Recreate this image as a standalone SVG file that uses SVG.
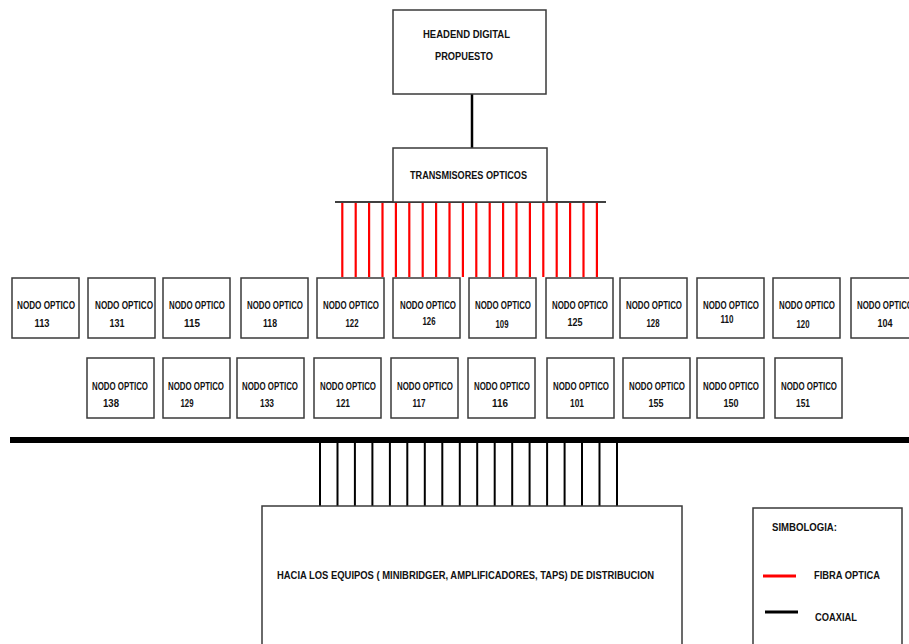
<svg xmlns="http://www.w3.org/2000/svg" width="909" height="644" viewBox="0 0 909 644">
  <style>
    .box { fill: #ffffff; stroke: #3a3a3a; stroke-width: 1.5; }
    .t { font-family: "Liberation Sans", Arial, sans-serif; font-weight: bold; fill: #111111; }
    .lbl { font-size: 11px; text-anchor: middle; }
    .num { font-size: 11px; text-anchor: middle; }
    .fiber { stroke: #ff0000; stroke-width: 2.2; }
    .coax { stroke: #000000; stroke-width: 2; }
  </style>
  <defs>
    <!-- optical node box: 67 x 60 -->
    <rect id="nodeBox" class="box" x="0" y="0" width="67" height="60"/>
  </defs>
  <rect width="909" height="644" fill="#ffffff"/>

  <!-- connectors -->
  <g id="connectors">
    <line x1="472" y1="94" x2="472" y2="148" stroke="#000" stroke-width="2.5"/>
    <line x1="335" y1="202" x2="606" y2="202" stroke="#000" stroke-width="1.5"/>
    <!-- fibre drops -->
    <g class="fiber">
      <line x1="342.3" y1="203" x2="342.3" y2="277"/>
      <line x1="355.7" y1="203" x2="355.7" y2="277"/>
      <line x1="369.1" y1="203" x2="369.1" y2="277"/>
      <line x1="382.5" y1="203" x2="382.5" y2="277"/>
      <line x1="395.9" y1="203" x2="395.9" y2="277"/>
      <line x1="409.3" y1="203" x2="409.3" y2="277"/>
      <line x1="422.7" y1="203" x2="422.7" y2="277"/>
      <line x1="436.1" y1="203" x2="436.1" y2="277"/>
      <line x1="449.5" y1="203" x2="449.5" y2="277"/>
      <line x1="462.9" y1="203" x2="462.9" y2="277"/>
      <line x1="476.3" y1="203" x2="476.3" y2="277"/>
      <line x1="489.7" y1="203" x2="489.7" y2="277"/>
      <line x1="503.1" y1="203" x2="503.1" y2="277"/>
      <line x1="516.5" y1="203" x2="516.5" y2="277"/>
      <line x1="529.9" y1="203" x2="529.9" y2="277"/>
      <line x1="543.3" y1="203" x2="543.3" y2="277"/>
      <line x1="556.7" y1="203" x2="556.7" y2="277"/>
      <line x1="570.1" y1="203" x2="570.1" y2="277"/>
      <line x1="583.5" y1="203" x2="583.5" y2="277"/>
      <line x1="596.9" y1="203" x2="596.9" y2="277"/>
    </g>
    <!-- coax trunk -->
    <line x1="10" y1="440" x2="909" y2="440" stroke="#000" stroke-width="6"/>
    <g class="coax">
      <line x1="320.0" y1="443" x2="320.0" y2="506"/>
      <line x1="337.5" y1="443" x2="337.5" y2="506"/>
      <line x1="354.9" y1="443" x2="354.9" y2="506"/>
      <line x1="372.4" y1="443" x2="372.4" y2="506"/>
      <line x1="389.9" y1="443" x2="389.9" y2="506"/>
      <line x1="407.3" y1="443" x2="407.3" y2="506"/>
      <line x1="424.8" y1="443" x2="424.8" y2="506"/>
      <line x1="442.3" y1="443" x2="442.3" y2="506"/>
      <line x1="459.8" y1="443" x2="459.8" y2="506"/>
      <line x1="477.2" y1="443" x2="477.2" y2="506"/>
      <line x1="494.7" y1="443" x2="494.7" y2="506"/>
      <line x1="512.2" y1="443" x2="512.2" y2="506"/>
      <line x1="529.6" y1="443" x2="529.6" y2="506"/>
      <line x1="547.1" y1="443" x2="547.1" y2="506"/>
      <line x1="564.6" y1="443" x2="564.6" y2="506"/>
      <line x1="582.0" y1="443" x2="582.0" y2="506"/>
      <line x1="599.5" y1="443" x2="599.5" y2="506"/>
      <line x1="617.0" y1="443" x2="617.0" y2="506"/>
    </g>
  </g>

  <!-- headend -->
  <g id="headend">
    <rect class="box" x="393" y="10" width="153" height="84"/>
    <text class="t" x="423" y="38" font-size="11" textLength="87" lengthAdjust="spacingAndGlyphs">HEADEND DIGITAL</text>
    <text class="t" x="435" y="60" font-size="11" textLength="58" lengthAdjust="spacingAndGlyphs">PROPUESTO</text>
  </g>

  <!-- optical transmitters -->
  <g id="transmisores">
    <rect class="box" x="393" y="148" width="154" height="54"/>
    <text class="t" x="410" y="179" font-size="11" textLength="117" lengthAdjust="spacingAndGlyphs">TRANSMISORES OPTICOS</text>
  </g>

  <!-- optical nodes, upper row -->
  <g id="nodo-113" transform="translate(12,278)"><use href="#nodeBox"/><text class="t lbl" x="34" y="31" textLength="58" lengthAdjust="spacingAndGlyphs">NODO OPTICO</text><text class="t num" x="30" y="49" textLength="15" lengthAdjust="spacingAndGlyphs">113</text></g>
  <g id="nodo-131" transform="translate(88,278)"><use href="#nodeBox"/><text class="t lbl" x="36" y="31" textLength="58" lengthAdjust="spacingAndGlyphs">NODO OPTICO</text><text class="t num" x="29" y="49" textLength="15" lengthAdjust="spacingAndGlyphs">131</text></g>
  <g id="nodo-115" transform="translate(163,278)"><use href="#nodeBox"/><text class="t lbl" x="34" y="31" textLength="56" lengthAdjust="spacingAndGlyphs">NODO OPTICO</text><text class="t num" x="29" y="49" textLength="16" lengthAdjust="spacingAndGlyphs">115</text></g>
  <g id="nodo-118" transform="translate(241,278)"><use href="#nodeBox"/><text class="t lbl" x="34" y="31" textLength="56" lengthAdjust="spacingAndGlyphs">NODO OPTICO</text><text class="t num" x="29" y="49" textLength="14" lengthAdjust="spacingAndGlyphs">118</text></g>
  <g id="nodo-122" transform="translate(317,278)"><use href="#nodeBox"/><text class="t lbl" x="34" y="31" textLength="56" lengthAdjust="spacingAndGlyphs">NODO OPTICO</text><text class="t num" x="35" y="49" textLength="13" lengthAdjust="spacingAndGlyphs">122</text></g>
  <g id="nodo-126" transform="translate(393,278)"><use href="#nodeBox"/><text class="t lbl" x="35" y="31" textLength="56" lengthAdjust="spacingAndGlyphs">NODO OPTICO</text><text class="t num" x="36" y="47" textLength="13" lengthAdjust="spacingAndGlyphs">126</text></g>
  <g id="nodo-109" transform="translate(469,278)"><use href="#nodeBox"/><text class="t lbl" x="34" y="31" textLength="56" lengthAdjust="spacingAndGlyphs">NODO OPTICO</text><text class="t num" x="33" y="50" textLength="13" lengthAdjust="spacingAndGlyphs">109</text></g>
  <g id="nodo-125" transform="translate(546,278)"><use href="#nodeBox"/><text class="t lbl" x="34" y="31" textLength="56" lengthAdjust="spacingAndGlyphs">NODO OPTICO</text><text class="t num" x="29" y="48" textLength="15" lengthAdjust="spacingAndGlyphs">125</text></g>
  <g id="nodo-128" transform="translate(620,278)"><use href="#nodeBox"/><text class="t lbl" x="34" y="31" textLength="56" lengthAdjust="spacingAndGlyphs">NODO OPTICO</text><text class="t num" x="33" y="49" textLength="13" lengthAdjust="spacingAndGlyphs">128</text></g>
  <g id="nodo-110" transform="translate(697,278)"><use href="#nodeBox"/><text class="t lbl" x="34" y="31" textLength="56" lengthAdjust="spacingAndGlyphs">NODO OPTICO</text><text class="t num" x="30" y="45" textLength="13" lengthAdjust="spacingAndGlyphs">110</text></g>
  <g id="nodo-120" transform="translate(773,278)"><use href="#nodeBox"/><text class="t lbl" x="34" y="31" textLength="56" lengthAdjust="spacingAndGlyphs">NODO OPTICO</text><text class="t num" x="30" y="50" textLength="13" lengthAdjust="spacingAndGlyphs">120</text></g>
  <g id="nodo-104" transform="translate(851,278)"><use href="#nodeBox"/><text class="t lbl" x="34" y="31" textLength="56" lengthAdjust="spacingAndGlyphs">NODO OPTICO</text><text class="t num" x="34" y="49" textLength="15" lengthAdjust="spacingAndGlyphs">104</text></g>

  <!-- optical nodes, lower row -->
  <g id="nodo-138" transform="translate(87,358)"><use href="#nodeBox"/><text class="t lbl" x="33" y="32" textLength="56" lengthAdjust="spacingAndGlyphs">NODO OPTICO</text><text class="t num" x="24" y="49" textLength="16" lengthAdjust="spacingAndGlyphs">138</text></g>
  <g id="nodo-129" transform="translate(163,358)"><use href="#nodeBox"/><text class="t lbl" x="33" y="32" textLength="56" lengthAdjust="spacingAndGlyphs">NODO OPTICO</text><text class="t num" x="24" y="49" textLength="13" lengthAdjust="spacingAndGlyphs">129</text></g>
  <g id="nodo-133" transform="translate(237,358)"><use href="#nodeBox"/><text class="t lbl" x="33" y="32" textLength="56" lengthAdjust="spacingAndGlyphs">NODO OPTICO</text><text class="t num" x="30" y="49" textLength="14" lengthAdjust="spacingAndGlyphs">133</text></g>
  <g id="nodo-121" transform="translate(314,358)"><use href="#nodeBox"/><text class="t lbl" x="34" y="32" textLength="56" lengthAdjust="spacingAndGlyphs">NODO OPTICO</text><text class="t num" x="29" y="49" textLength="14" lengthAdjust="spacingAndGlyphs">121</text></g>
  <g id="nodo-117" transform="translate(391,358)"><use href="#nodeBox"/><text class="t lbl" x="34" y="32" textLength="56" lengthAdjust="spacingAndGlyphs">NODO OPTICO</text><text class="t num" x="28" y="49" textLength="13" lengthAdjust="spacingAndGlyphs">117</text></g>
  <g id="nodo-116" transform="translate(468,358)"><use href="#nodeBox"/><text class="t lbl" x="34" y="32" textLength="56" lengthAdjust="spacingAndGlyphs">NODO OPTICO</text><text class="t num" x="32" y="49" textLength="16" lengthAdjust="spacingAndGlyphs">116</text></g>
  <g id="nodo-101" transform="translate(547,358)"><use href="#nodeBox"/><text class="t lbl" x="34" y="32" textLength="56" lengthAdjust="spacingAndGlyphs">NODO OPTICO</text><text class="t num" x="30" y="49" textLength="14" lengthAdjust="spacingAndGlyphs">101</text></g>
  <g id="nodo-155" transform="translate(623,358)"><use href="#nodeBox"/><text class="t lbl" x="34" y="32" textLength="56" lengthAdjust="spacingAndGlyphs">NODO OPTICO</text><text class="t num" x="33" y="49" textLength="15" lengthAdjust="spacingAndGlyphs">155</text></g>
  <g id="nodo-150" transform="translate(697,358)"><use href="#nodeBox"/><text class="t lbl" x="34" y="32" textLength="56" lengthAdjust="spacingAndGlyphs">NODO OPTICO</text><text class="t num" x="34" y="49" textLength="15" lengthAdjust="spacingAndGlyphs">150</text></g>
  <g id="nodo-151" transform="translate(775,358)"><use href="#nodeBox"/><text class="t lbl" x="34" y="32" textLength="56" lengthAdjust="spacingAndGlyphs">NODO OPTICO</text><text class="t num" x="28" y="49" textLength="14" lengthAdjust="spacingAndGlyphs">151</text></g>

  <!-- distribution equipment -->
  <g id="distribucion">
    <rect class="box" x="262" y="506" width="420" height="150"/>
    <text class="t" x="277" y="579" font-size="11.5" textLength="377" lengthAdjust="spacingAndGlyphs">HACIA LOS EQUIPOS ( MINIBRIDGER, AMPLIFICADORES, TAPS) DE DISTRIBUCION</text>
  </g>

  <!-- legend -->
  <g id="simbologia">
    <rect class="box" x="753" y="508" width="149" height="150"/>
    <text class="t" x="772" y="531" font-size="11.5" textLength="65" lengthAdjust="spacingAndGlyphs">SIMBOLOGIA:</text>
    <line x1="763" y1="576" x2="796" y2="576" stroke="#ff0000" stroke-width="3"/>
    <text class="t" x="814" y="579" font-size="11" textLength="66" lengthAdjust="spacingAndGlyphs">FIBRA OPTICA</text>
    <line x1="765" y1="612" x2="798" y2="612" stroke="#000000" stroke-width="3"/>
    <text class="t" x="815" y="621" font-size="11" textLength="42" lengthAdjust="spacingAndGlyphs">COAXIAL</text>
  </g>
</svg>
